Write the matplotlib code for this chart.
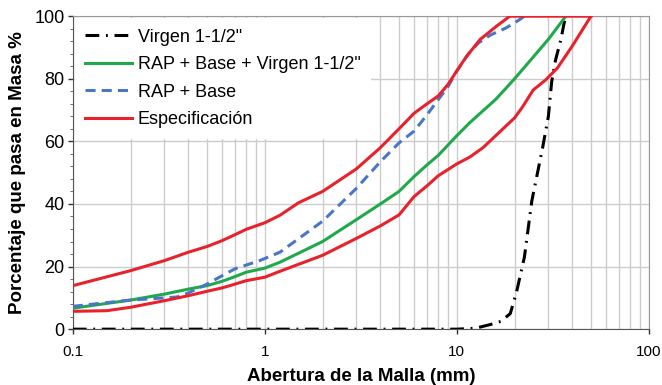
import matplotlib
matplotlib.use('Agg')
import matplotlib.pyplot as plt
from matplotlib.ticker import FixedLocator, MultipleLocator, NullFormatter

plt.rcParams['font.family'] = ['Liberation Sans', 'DejaVu Sans']

# datos
x_virgen = [0.1, 1, 5, 10, 12.5, 15, 17, 19, 20.5, 22.5, 24.6, 28, 30, 31.2, 32.7, 34, 35, 36, 37]
y_virgen = [0, 0, 0, 0, 0.3, 1.5, 2.5, 5, 12, 23, 41, 58, 68, 79, 86, 90, 93, 97, 100]

x_mezcla = [0.1, 0.2, 0.3, 0.4, 0.5, 0.6, 0.7, 0.8, 1, 1.2, 2, 3, 4, 5, 6, 7, 8, 10, 11.7, 16, 20, 30, 37]
y_mezcla = [6.7, 9.3, 11.2, 12.8, 13.9, 15.3, 16.8, 18.2, 19.5, 21.4, 28, 35, 40, 44, 48.8, 52.5, 55.5, 61.8, 66, 73.5, 80, 92.6, 100]

x_rap = [0.1, 0.2, 0.3, 0.35, 0.4, 0.5, 0.6, 0.7, 0.94, 1.2, 2, 3, 4, 5, 6, 7, 8, 9, 10, 11.5, 13, 15, 18, 21, 22.5]
y_rap = [7.3, 9.3, 10, 10.3, 11.6, 14.4, 17.1, 19.3, 21.9, 24.6, 34.5, 45, 53.5, 59.5, 63.3, 68.5, 73.3, 77.5, 82.5, 88, 91.5, 94, 96.2, 98.7, 100]

x_esp_sup = [0.1, 0.2, 0.3, 0.4, 0.5, 0.6, 0.7, 0.8, 1, 1.2, 1.5, 2, 3, 4, 5, 6, 7, 8, 9, 10, 11.2, 13.2, 16.1, 18.9, 50]
y_esp_sup = [13.9, 18.7, 21.9, 24.6, 26.4, 28.3, 30.2, 31.9, 34, 36.4, 40.4, 44, 51.2, 58, 64, 69, 72, 74.5, 78.2, 82.5, 87, 92.5, 96.8, 100, 100]

x_esp_inf = [0.1, 0.15, 0.2, 0.3, 0.4, 0.5, 0.6, 0.7, 0.8, 1, 1.2, 2, 3, 4, 5, 6, 7, 8, 10, 11.7, 13.7, 20, 22, 25, 29, 33.4, 40, 50]
y_esp_inf = [5.7, 5.9, 7, 9.1, 10.7, 12.1, 13.2, 14.4, 15.5, 16.6, 18.5, 23.6, 29, 33, 36.5, 42.4, 45.8, 49, 52.8, 55, 58, 67.5, 71, 76.4, 79.6, 83.4, 90.5, 100]

rojo = '#e8212b'
verde = '#1fa94b'
azul = '#4a76c6'

fig = plt.figure(figsize=(6.62, 3.85), dpi=100)
ax = fig.add_axes([0.110, 0.145, 0.870, 0.813])

kw = dict(lw=2.2, zorder=3, solid_joinstyle='round', dash_joinstyle='round')
ax.plot(x_virgen, y_virgen, color='black', dashes=(4.5, 2.2, 0.6, 2.2), label='Virgen 1-1/2"', **kw)
ax.plot(x_mezcla, y_mezcla, color=verde, label='RAP + Base + Virgen 1-1/2"', **kw)
ax.plot(x_rap, y_rap, color=azul, dashes=(3.3, 2.0), label='RAP + Base', **kw)
ax.plot(x_esp_sup, y_esp_sup, color=rojo, label='Especificación', **kw)
ax.plot(x_esp_inf, y_esp_inf, color=rojo, **kw)

ax.set_xscale('log')
ax.set_xlim(0.1, 100)
ax.set_ylim(0, 100)

ax.xaxis.set_major_locator(FixedLocator([0.1, 1, 10, 100]))
ax.set_xticklabels(['0.1', '1', '10', '100'])
ax.xaxis.set_minor_formatter(NullFormatter())
ax.tick_params(axis='x', which='minor', length=0)
ax.yaxis.set_major_locator(MultipleLocator(20))
ax.yaxis.set_minor_locator(MultipleLocator(4))
ax.tick_params(axis='both', which='major', colors='#333333', length=3.5, width=1, labelcolor='black')
ax.tick_params(axis='x', which='major', labelsize=11, pad=8)
ax.tick_params(axis='y', which='major', labelsize=13, pad=2.5)
ax.tick_params(axis='y', which='minor', length=2.5, color='#555555')

ax.grid(True, which='both', axis='x', color='#cccccc', lw=1)
ax.grid(True, which='major', axis='y', color='#cccccc', lw=1)
ax.set_axisbelow(True)

for s in ['top', 'right']:
    ax.spines[s].set_color('#999999')
for s in ['left', 'bottom']:
    ax.spines[s].set_color('#555555')

ax.set_xlabel('Abertura de la Malla (mm)', fontsize=13.5, fontweight='bold')
ax.xaxis.set_label_coords(0.5, -0.124)
ax.set_ylabel('Porcentaje que pasa en Masa %', fontsize=13.5, fontweight='bold', labelpad=6)

leg = ax.legend(loc='upper left', fontsize=13, frameon=True, fancybox=False, edgecolor='none',
                framealpha=1, handlelength=2.6, handletextpad=0.3, labelspacing=0.58,
                borderaxespad=0.1, borderpad=0.6)
leg.set_zorder(5)

fig.savefig('out.png', dpi=100)
